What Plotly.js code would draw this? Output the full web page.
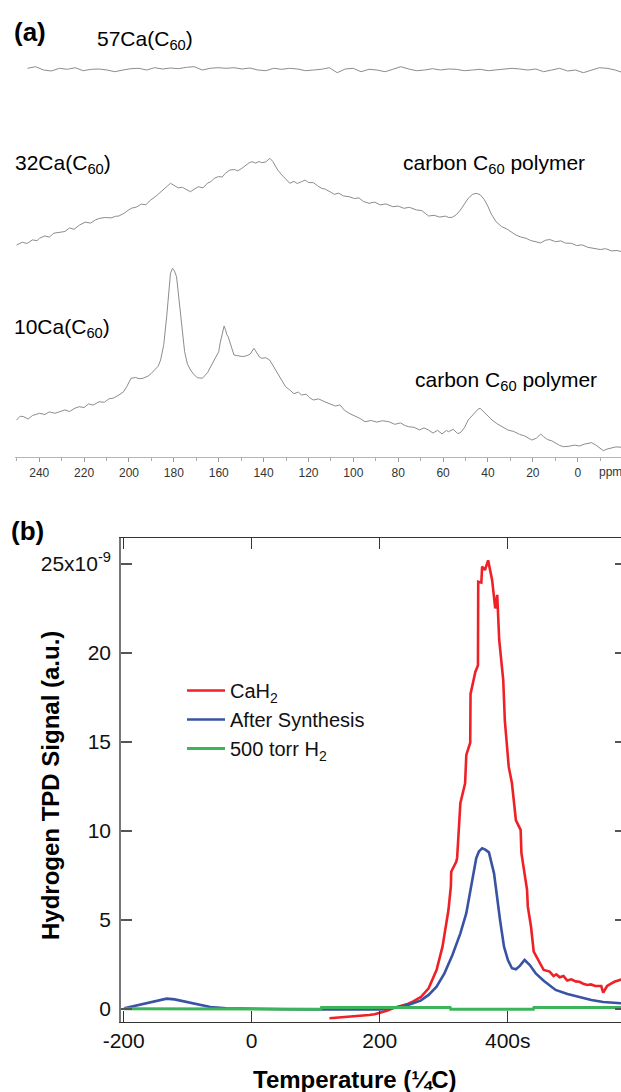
<!DOCTYPE html>
<html>
<head>
<meta charset="utf-8">
<script src="https://cdn.plot.ly/plotly-3.0.1.min.js"></script>
<style>html,body{margin:0;padding:0;overflow:hidden;background:#fff}#plot{width:630px;height:1092px}</style>
</head>
<body>
<div id="plot"></div>
<script>
// ---------- Panel (a): 13C NMR spectra (ppm vs. stacked intensity, a.u.) ----------
const ca57_ppm = [245.2,241.6,238.1,234.6,231.0,227.5,224.0,220.4,216.9,213.3,209.8,206.3,202.7,199.2,195.6,192.1,188.6,185.0,181.5,177.9,174.4,170.9,167.3,163.8,160.3,156.7,153.2,149.6,146.1,142.6,139.0,135.5,131.9,128.4,124.9,121.3,117.8,114.2,110.7,107.2,103.6,100.1,96.6,93.0,89.5,85.9,82.4,78.9,75.3,71.8,68.2,64.7,61.2,57.6,54.1,50.6,47.0,43.5,39.9,36.4,32.9,29.3,25.8,22.2,18.7,15.2,11.6,8.1,4.5,1.0,-2.5,-6.1,-9.6,-13.1,-16.7,-20.2];
const ca57_int = [388.4,390.0,386.7,385.7,388.4,387.4,389.0,386.0,387.4,387.7,
386.7,385.0,386.7,388.0,388.4,386.7,389.0,387.7,388.7,388.0,
389.4,390.0,386.7,388.4,389.0,388.4,389.0,387.7,388.7,386.7,
386.0,388.4,387.4,388.4,387.7,386.0,386.7,387.4,389.0,384.0,
387.7,388.4,385.0,387.4,386.7,385.0,387.4,390.0,387.7,386.0,
386.7,388.0,386.7,387.7,387.4,386.0,386.7,387.4,386.0,386.7,
387.7,388.4,387.7,386.7,387.7,385.0,386.7,388.4,385.7,386.7,
384.0,386.7,389.0,388.4,386.7,384.0];

const ca32_ppm = [250.1,247.5,245.5,243,241,239.9,237.5,235.5,233.5,231,228.5,226.5,224.5,222,219.5,217,215,213,210.5,208,206,204.5,202,200.5,199,196.5,194.5,192.5,190.3,188,186.5,185,183,181.5,179.5,178,176.2,174.5,172.6,171,169.1,167,165,163.5,162,160,158.5,157,155,153,151.5,149.7,148,146.5,145.2,143.5,142,140.8,139,137.2,136,134.5,133.7,132,130,128.3,126.5,125,123.1,121.5,120,117.8,116,114,112.5,110.7,108.5,106.5,104.5,101.9,99.5,97.5,95.5,93,90.5,88,85.5,82.4,80,77.5,75,71.8,69.5,68,66.5,64,61.5,59,57.5,55.9,54,52.3,50.5,48.8,47,45.3,43.5,41.7,40,38.5,36.4,34,31.5,29.5,27.6,25.5,23,21,18.7,16.5,14.5,12.5,9.9,7.5,5.5,2.8,0.5,-2,-4.5,-7.7,-10,-12.5,-15,-17.5,-19.8];
const ca32_int = [211.7,214.5,213.2,216.8,216,218.4,220.8,219.6,223.5,224,225.2,228.8,227.4,231.7,234.5,233.6,236.8,238.4,239.2,238.8,240.4,240.7,243.6,246.2,248.4,249.8,252.6,252,256.7,260.5,263.2,266.7,270.4,273.4,271.2,268.8,269.4,267.2,265,267.4,270,268.8,273.6,275,278.4,280.2,279.6,283.4,286.7,287.2,285.8,288.4,291.2,293.8,295,293.6,295.2,294,294.8,298.4,295.5,290,286.7,282,277.2,273.4,275.4,273.2,275,276.6,274.2,274,271,268.2,267.6,265,262.4,263.6,260.8,260,258.2,258.8,255.2,253.4,254.6,251.8,252.8,250,250.6,248.4,249.4,246.7,246.2,243.4,240.7,241.4,239.6,240.6,239.2,239.4,242.2,246.7,252.6,258.4,262.2,263.4,262,257.4,250.2,242.6,235,230.2,227.6,224.2,221.7,219.8,218.4,216.2,215,213.8,216.4,217.2,215,215.8,213.6,213.4,211.2,211.8,209.4,208.4,207.2,208,205.8,206.2,205];

const ca10_ppm = [250.1,248.5,246.9,245,243,241.5,239.9,237.5,235.5,233,231,228.5,226.5,224,222.2,220,218,216,213.3,211,209,207,204.5,202.5,201,199.1,197,195.5,193.8,191.5,190,188.5,187,185.9,184.5,183.2,182.2,181.5,180.6,179.8,178.8,177.8,176.8,176.2,175.2,174,172.6,171,169.5,167.3,165,162,160,159.4,158.5,157.6,157,156.4,155.8,154.5,153.2,151.5,149.5,147.9,146,144.3,143,141.8,140.8,139,137.3,135.5,133.7,132,130.2,128.5,126.5,124.5,123.1,121,119.5,117.8,115.5,113,110.7,108,106,104,101.9,99.5,97,94.8,92,89.5,87,84.2,81.5,79,77,75.4,73,70.5,68.5,66.5,64.5,62.5,60.5,58.5,57.6,55.5,53.5,52.3,50.5,48.8,46.5,44.5,43.5,42,40,38.2,36,33.5,31.1,28.5,26,23.5,20.5,18.5,16.5,15.2,13.5,11.5,9.9,8,6.3,4,1.5,-0.8,-3,-6.1,-8,-10,-11.4,-13,-14.9,-17,-19.8];
const ca10_int = [36.7,40.5,40,37.6,41.2,42.6,43.4,42.2,44.8,43.4,45,46.8,45.2,48.6,50,49.2,52.8,51.6,55,54.4,57.8,58.6,61.7,64.8,70,78.4,79.2,78,78.4,80.6,83.4,86.7,90.5,96.7,112,140,165,183.4,188.4,186,180,160,135,123.4,105,93,86.7,82,79,78.4,84,96.7,105,113.4,122,130.7,127,122,120,110,101.7,101,100.2,100.7,102.5,108.4,103,99.5,98.4,99,96.7,90,83.4,76,70,67,63,64.6,61.7,62.5,59,56.7,57.8,55.2,53.4,50.6,51.8,46.5,43.4,41,38.2,35,36.2,34.6,36,35,32.4,33.8,31.2,30,29.4,26.8,28.8,26.7,23.6,26.4,22.8,26.2,25,27.4,23.2,24,29,36.7,42.5,47.4,48.4,45,40.4,36.7,33,30.2,26.7,25.2,22.4,20.6,16.7,18.4,22.6,20,17.2,15.8,13.4,11.2,10,10.4,11.6,10.7,12.6,14,11.8,8.2,6,7.6,8.4,9.8,9.4];

const ppmTicks = [240,220,200,180,160,140,120,100,80,60,40,20,0];
const ppmMinor = [250,230,210,190,170,150,130,110,90,70,50,30,10,-10];

// ---------- Panel (b): hydrogen TPD (temperature vs signal, x1e-9) ----------
const cah2_T = [121.4,130,140,152,164.7,175,183.3,192,202,211,220.6,233,242,251.6,263.9,276.4,288.8,298.1,307.4,311.2,311.7,319.7,321,326,333.4,335.3,341.4,341.9,349.5,353.5,353.9,358.8,360,364.4,369.4,375.6,380.5,383.6,386.7,393,395.5,401.6,406.6,412.8,420.2,421.4,430.2,431.4,436.4,440.6,450,456.2,465.5,471.7,476,481,487.2,493,499.5,506,512,518,524.4,530,536.7,546.1,549.2,555.3,560,566.6,578.9];
const cah2_S = [-0.52,-0.5,-0.47,-0.45,-0.39,-0.38,-0.34,-0.3,-0.21,-0.1,0.04,0.17,0.26,0.41,0.66,1.16,2.19,3.5,5.56,6.9,7.71,8.28,8.5,11.56,12.68,14.27,14.96,17.7,18.95,19.3,24.0,23.95,24.85,24.66,25.2,24.1,22.5,23.26,20.73,18.48,16.2,13.6,12.68,10.6,10.06,8.75,6.69,5.75,4.62,3.22,2.57,2.19,2.1,1.85,1.95,1.78,1.85,1.6,1.67,1.55,1.53,1.42,1.35,1.38,1.29,1.29,0.92,1.29,1.4,1.53,1.67];

const after_T = [-199.2,-182.5,-163.9,-145.3,-132.8,-120.5,-101.9,-83.3,-64.7,-39.8,0,50,100,164.5,202,226.7,245.3,263.9,276.4,288.8,301.1,313.6,326,335.3,344.5,350.8,355,360,365,370.6,378.6,381.7,388,394.2,400.3,406.6,412.8,418.9,426.4,434.5,443.8,456.2,474.8,493.4,512,530.6,549.2,578.9];
const after_S = [0.04,0.17,0.32,0.5,0.58,0.54,0.39,0.24,0.11,0.04,0.0,-0.01,-0.02,-0.02,-0.02,0.1,0.24,0.47,0.79,1.25,2.0,3.03,4.25,5.38,7.25,8.47,8.85,9.03,8.95,8.8,7.62,6.69,5.0,3.5,2.75,2.29,2.23,2.42,2.75,2.47,2.0,1.59,1.07,0.84,0.66,0.51,0.39,0.32];

const h2_T = [-200,-40,-39,108,109,310,311,440,441,578.9];
const h2_S = [0.02,0.02,-0.02,-0.02,0.08,0.08,-0.02,-0.02,0.08,0.08];

const tTicks = [-200,0,200,400];
const tTickText = ['-200','0','200','400s'];
const sTicks = [0,5,10,15,20,25];
const sTickText = ['0','5','10','15','20','25x10<sup>-9</sup>'];

// ---------- layout helpers (pixel -> paper) ----------
const W = 630, H = 1092;
const px = x => x / W;
const py = y => 1 - y / H;
const FONT = 'Liberation Sans, Arial, Helvetica, sans-serif';
const nmrColor = '#8c8c8c';

function label(text, x, y, size, extra) {
  return Object.assign({text:text, x:px(x), y:py(y), xref:'paper', yref:'paper', showarrow:false,
    xanchor:'center', yanchor:'middle', font:{family:FONT, size:size, color:'#000'}}, extra || {});
}

const traces = [
  {x: ca57_ppm, y: ca57_int, xaxis:'x2', yaxis:'y2', mode:'lines', line:{color:nmrColor, width:1}, showlegend:false, hoverinfo:'skip'},
  {x: ca32_ppm, y: ca32_int, xaxis:'x2', yaxis:'y2', mode:'lines', line:{color:nmrColor, width:1}, showlegend:false, hoverinfo:'skip'},
  {x: ca10_ppm, y: ca10_int, xaxis:'x2', yaxis:'y2', mode:'lines', line:{color:nmrColor, width:1}, showlegend:false, hoverinfo:'skip'},
  {x: cah2_T, y: cah2_S, xaxis:'x', yaxis:'y', mode:'lines', name:'CaH<sub>2</sub>', line:{color:'#ee2226', width:2.6}},
  {x: after_T, y: after_S, xaxis:'x', yaxis:'y', mode:'lines', name:'After Synthesis', line:{color:'#3953a4', width:2.6}},
  {x: h2_T, y: h2_S, xaxis:'x', yaxis:'y', mode:'lines', name:'500 torr H<sub>2</sub>', line:{color:'#3cb55a', width:3}}
];

const layout = {
  width: W, height: H,
  margin: {l:0, r:0, t:0, b:0},
  paper_bgcolor: '#fff', plot_bgcolor: 'rgba(0,0,0,0)',
  font: {family: FONT, color: '#111'},
  showlegend: true,
  legend: {x: px(182), y: py(671), xanchor:'left', yanchor:'top', bgcolor:'rgba(0,0,0,0)',
           font:{family:FONT, size:20, color:'#111'}, tracegroupgap:0, itemwidth:38},
  xaxis: {domain:[px(120.7), px(626)], range:[-204.7, 584.8], anchor:'y',
          tickvals:tTicks, ticktext:tTickText, ticks:'inside', ticklen:11, tickwidth:1.3, tickcolor:'#333',
          showline:true, linecolor:'#333', linewidth:1.3, mirror:'ticks', showgrid:false, zeroline:false,
          tickfont:{family:FONT, size:21, color:'#111'}},
  yaxis: {domain:[py(1021.7), py(538.3)], range:[-0.7135, 26.44], anchor:'x',
          tickvals:sTicks, ticktext:sTickText, ticks:'inside', ticklen:11, tickwidth:1.3, tickcolor:'#555',
          showline:true, linecolor:'#777', linewidth:1.5, mirror:'ticks', showgrid:false, zeroline:false,
          ticklabelstandoff:4, tickfont:{family:FONT, size:21, color:'#111'}},
  xaxis2: {domain:[px(15), 1], range:[250.8, -23.3], anchor:'y2',
           tickvals:ppmTicks, ticks:'outside', ticklen:4, tickwidth:1, tickcolor:'#999',
           minor:{tickvals:ppmMinor, ticks:'outside', ticklen:2.5, tickcolor:'#aaa', showgrid:false},
           showline:true, linecolor:'#b5b5b5', linewidth:1.5, showgrid:false, zeroline:false,
           tickfont:{family:FONT, size:12, color:'#333'}},
  yaxis2: {domain:[py(456.7), py(10)], range:[0, 446.7], anchor:'x2', visible:false},
  annotations: [
    label('<b>(a)</b>', 30, 32, 26),
    label('57Ca(C<sub>60</sub>)', 145, 40, 21),
    label('32Ca(C<sub>60</sub>)', 63, 164, 21),
    label('carbon C<sub>60</sub> polymer', 494, 164, 21),
    label('10Ca(C<sub>60</sub>)', 62, 328, 21),
    label('carbon C<sub>60</sub> polymer', 506, 381, 21),
    label('ppm', 610, 472, 12, {font:{family:FONT, size:12, color:'#333'}}),
    label('<b>(b)</b>', 27, 531, 26),
    label('<b>Hydrogen TPD Signal (a.u.)</b>', 50, 786, 24, {textangle:-90}),
    label('<b>Temperature (¼C)</b>', 355, 1079, 24)
  ]
};

Plotly.newPlot('plot', traces, layout, {displayModeBar:false, staticPlot:true});
</script>
</body>
</html>
